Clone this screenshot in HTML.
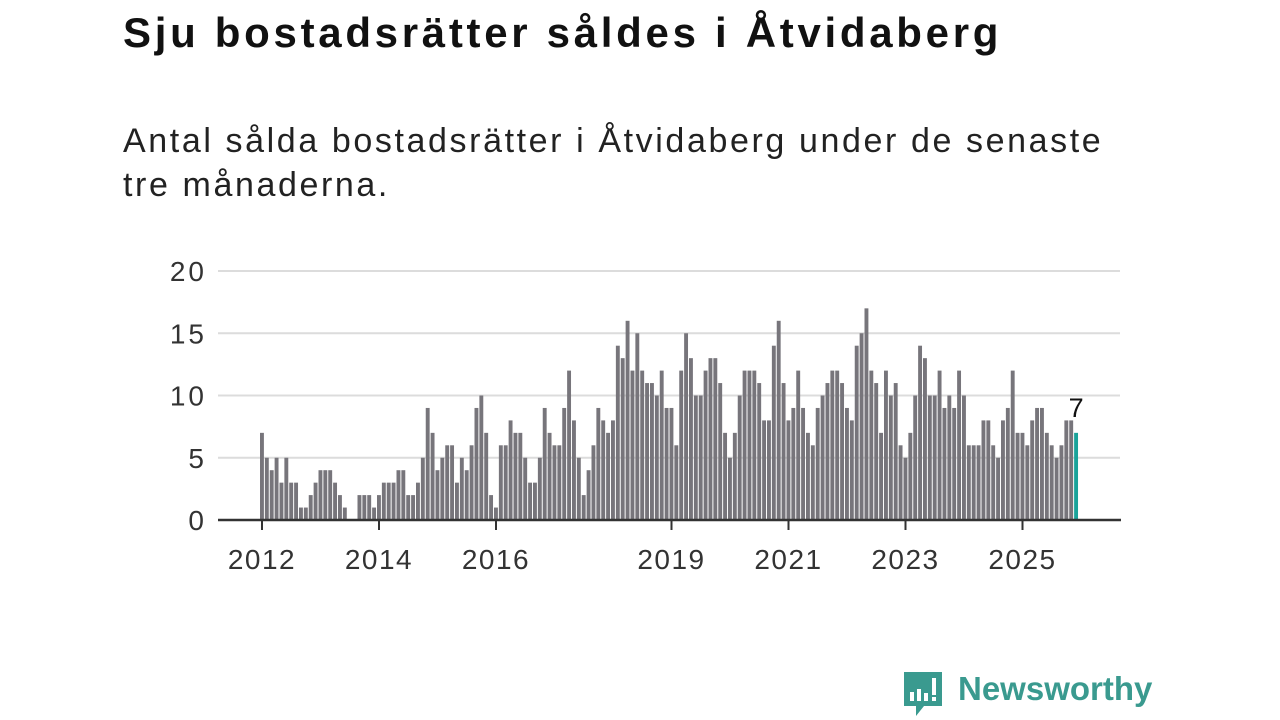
<!DOCTYPE html>
<html><head><meta charset="utf-8">
<style>
body{margin:0;width:1280px;height:720px;background:#fff;overflow:hidden;font-family:"Liberation Sans",sans-serif;position:relative}
#title{position:absolute;left:123px;top:9px;font-size:42px;letter-spacing:3.7px;font-weight:bold;color:#111;margin:0;white-space:nowrap}
#sub{position:absolute;left:123px;top:119px;font-size:34px;letter-spacing:2.6px;line-height:44px;color:#222;width:1010px;margin:0}
svg{position:absolute;left:0;top:0}
#logo{position:absolute;left:902px;top:670px;height:50px}
#logotext{position:absolute;left:958px;top:670px;font-size:33px;font-weight:bold;color:#3a9a8f}
</style></head><body>
<h1 id="title">Sju bostadsrätter såldes i Åtvidaberg</h1>
<p id="sub">Antal sålda bostadsrätter i Åtvidaberg under de senaste tre månaderna.</p>
<svg id="chart" width="1280" height="720"></svg>
<svg id="logo" width="42" height="50" viewBox="0 0 42 50">
<path d="M2 2h38v34H22l-8 10v-10H2z" fill="#3a9a8f"/>
<rect x="8" y="22" width="4" height="9" fill="#fff"/><rect x="15" y="19" width="4" height="12" fill="#fff"/><rect x="22" y="23" width="4" height="8" fill="#fff"/><rect x="30" y="8" width="4" height="17" fill="#fff"/><rect x="30" y="27" width="4" height="4" fill="#fff"/>
</svg>
<div id="logotext">Newsworthy</div>
<script>
const values = [7,5,4,5,3,5,3,3,1,1,2,3, 4,4,4,3,2,1,0,0,2,2,2,1,
2,3,3,3,4,4,2,2,3,5,9,7, 4,5,6,6,3,5,4,6,9,10,7,2,
1,6,6,8,7,7,5,3,3,5,9,7, 6,6,9,12,8,5,2,4,6,9,8,7,
8,14,13,16,12,15,12,11,11,10,12,9, 9,6,12,15,13,10,10,12,13,13,11,7,
5,7,10,12,12,12,11,8,8,14,16,11, 8,9,12,9,7,6,9,10,11,12,12,11,
9,8,14,15,17,12,11,7,12,10,11,6, 5,7,10,14,13,10,10,12,9,10,9,12,
10,6,6,6,8,8,6,5,8,9,12,7, 7,6,8,9,9,7,6,5,6,8,8,7];
const yTicks = [0,5,10,15,20];
const xTickYears = [2012,2014,2016,2019,2021,2023,2025];
const startYear = 2012;
const svg = document.getElementById('chart');
const NS = 'http://www.w3.org/2000/svg';
const x0 = 262, step = 4.875, yBase = 520, yUnit = 12.45;
const xs = i => x0 + i*step;
const ys = v => yBase - v*yUnit;
function mk(tag, attrs){const e=document.createElementNS(NS,tag);for(const k in attrs)e.setAttribute(k,attrs[k]);svg.appendChild(e);return e;}
yTicks.forEach(t=>{
  if(t>0){const g=mk('line',{x1:218,x2:1120,y1:ys(t),y2:ys(t),stroke:'#dcdcdc','stroke-width':2});
  
  }
  const l=mk('text',{x:207,y:ys(t)+10,'text-anchor':'end','font-size':28,'letter-spacing':3,fill:'#333','font-family':'Liberation Sans, sans-serif'});
  l.textContent=t;
  
  
});
values.forEach((v,i)=>{
  const last=i===values.length-1;
  const r=mk('rect',{x:xs(i)-2,y:ys(v),width:3.9,height:v*yUnit,fill:last?'#1aa39a':'#77757b'});
  
  
  if(last){const t=mk('text',{x:xs(i),y:ys(v)-16,'text-anchor':'middle','font-size':27,fill:'#111','font-family':'Liberation Sans, sans-serif'});
  t.textContent=v;
  
  }
});
const ax=mk('line',{x1:218,x2:1121,y1:yBase,y2:yBase,stroke:'#333','stroke-width':2.5});


xTickYears.forEach(y=>{
  const x=xs((y-startYear)*12);
  const tk=mk('line',{x1:x,x2:x,y1:yBase,y2:yBase+10,stroke:'#333','stroke-width':2});
  
  
  const l=mk('text',{x:x,y:569,'text-anchor':'middle','font-size':28,'letter-spacing':1.5,fill:'#333','font-family':'Liberation Sans, sans-serif'});
  l.textContent=y;
  
  
});
</script>
</body></html>
